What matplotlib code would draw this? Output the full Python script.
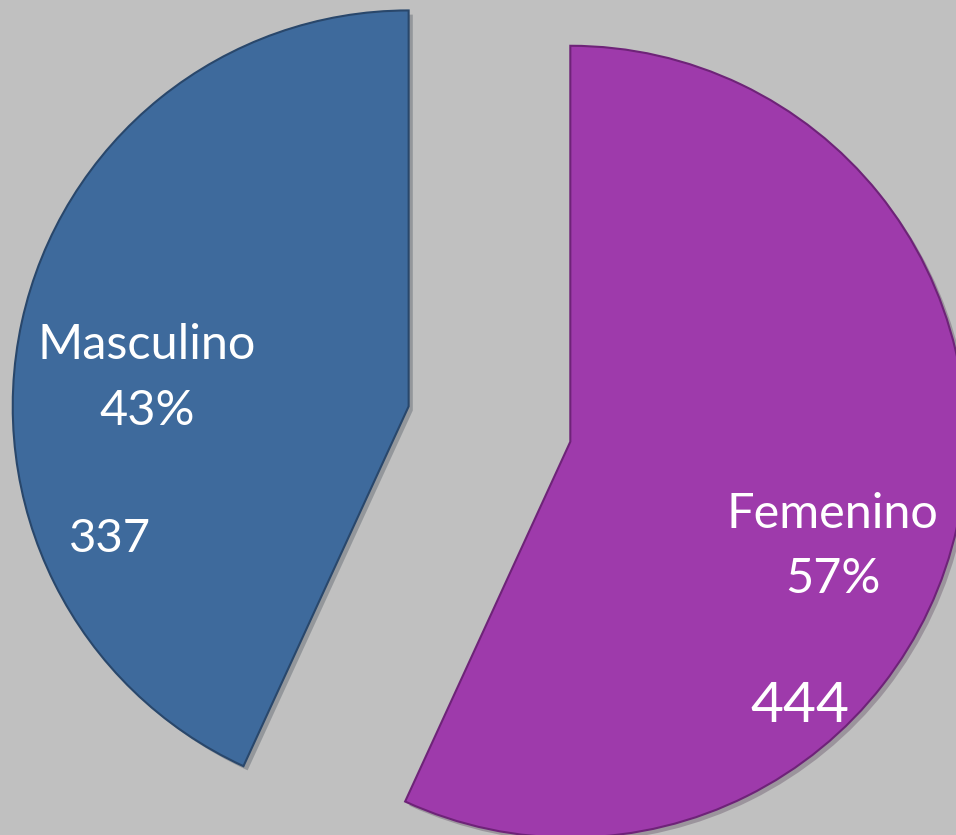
import matplotlib.pyplot as plt
import matplotlib.patheffects as pe

labels = ["Femenino", "Masculino"]
percents = ["57%", "43%"]
counts = [444, 337]
colors = ["#9e3aab", "#3e6a9c"]
edge_colors = ["#6e2378", "#29476b"]

plt.rcParams['font.family'] = ['Lato', 'DejaVu Sans']


def main():
    fig = plt.figure(figsize=(9.56, 8.35), dpi=100, facecolor="#c0c0c0")
    ax = fig.add_axes([0, 0, 1, 1])
    ax.set_facecolor("#c0c0c0")

    wedges, _ = ax.pie(counts, colors=colors, startangle=90, counterclock=False,
                       explode=[0.209, 0.209], radius=1,
                       wedgeprops=dict(linewidth=1.5))
    for w, ec in zip(wedges, edge_colors):
        w.set_edgecolor(ec)
        w.set_path_effects([pe.SimplePatchShadow(offset=(3, -3), alpha=0.25), pe.Normal()])

    # label positions (data units, radius = 1)
    name_pos = [(0.867, -0.227), (-0.865, 0.199)]
    pct_pos = [(0.867, -0.392), (-0.865, 0.032)]
    count_pos = [(0.784, -0.714), (-0.958, -0.29)]
    count_sizes = [41, 34]
    for i in range(len(labels)):
        ax.text(*name_pos[i], labels[i], color="white",
                fontsize=35, ha="center", va="center")
        ax.text(*pct_pos[i], percents[i], color="white",
                fontsize=35, ha="center", va="center")
        ax.text(*count_pos[i], str(counts[i]), color="white",
                fontsize=count_sizes[i], ha="center", va="center")

    ax.set_xlim(-1.236, 1.178)
    ax.set_ylim(-1.038, 1.071)
    ax.set_aspect("equal")
    ax.axis("off")

    fig.savefig("out.png", facecolor=fig.get_facecolor())


if __name__ == "__main__":
    main()
